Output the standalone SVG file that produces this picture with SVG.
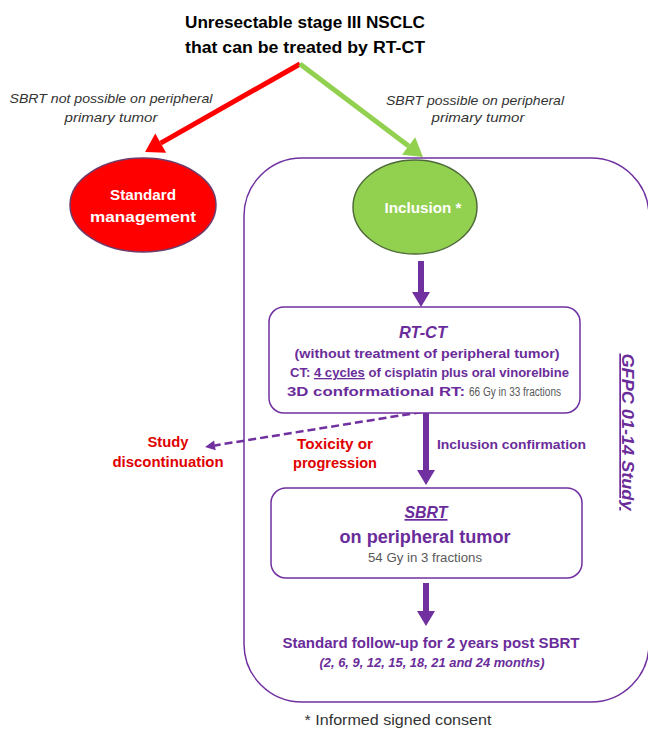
<svg xmlns="http://www.w3.org/2000/svg" width="648" height="731" viewBox="0 0 648 731">
<style>
text{font-family:"Liberation Sans",Arial,sans-serif}
.title{font-size:16px;font-weight:bold;fill:#000}
.lab{font-size:13px;font-style:italic;fill:#333}
.wb{font-weight:bold;fill:#fff}
.pb{font-weight:bold;fill:#6A2C9A}
.rb{font-weight:bold;fill:#E00000;font-size:14px}
.gray{fill:#595959;font-size:12px}
.box{fill:#fff;stroke:#7030A0;stroke-width:1.5}
.parr{stroke:#7030A0;stroke-width:6;fill:none}
</style>
<defs>
<marker id="hRed" markerUnits="userSpaceOnUse" markerWidth="18" markerHeight="22" refX="0" refY="11" orient="auto" overflow="visible"><path d="M0,0 L18,11 L0,22 z" fill="#FF0000"/></marker>
<marker id="hGreen" markerUnits="userSpaceOnUse" markerWidth="18" markerHeight="22" refX="0" refY="11" orient="auto" overflow="visible"><path d="M0,0 L18,11 L0,22 z" fill="#92D050"/></marker>
<marker id="hPur" markerUnits="userSpaceOnUse" markerWidth="15" markerHeight="18" refX="0" refY="9" orient="auto" overflow="visible"><path d="M0,0 L15,9 L0,18 z" fill="#7030A0"/></marker>
<marker id="hDash" markerUnits="userSpaceOnUse" markerWidth="10" markerHeight="10" refX="0" refY="5" orient="auto" overflow="visible"><path d="M0,0 L10,5 L0,10 z" fill="#7030A0"/></marker>
</defs>
<rect width="648" height="731" fill="#fff"/>

<g id="study-container">
<rect x="244" y="158" width="405" height="544" rx="58" ry="58" fill="none" stroke="#7030A0" stroke-width="1.5"/>
<text transform="translate(622,432) rotate(90)" text-anchor="middle" font-size="17" font-weight="bold" font-style="italic" fill="#6A2C9A" text-decoration="underline" textLength="157" lengthAdjust="spacingAndGlyphs">GFPC 01-14 Study</text>
</g>

<g id="title">
<text class="title" x="305" y="28" text-anchor="middle" textLength="240" lengthAdjust="spacingAndGlyphs">Unresectable stage III NSCLC</text>
<text class="title" x="305" y="53" text-anchor="middle" textLength="240" lengthAdjust="spacingAndGlyphs">that can be treated by RT-CT</text>
</g>

<g id="connectors">
<line x1="300" y1="64" x2="160.7" y2="143.1" stroke="#FF0000" stroke-width="5" marker-end="url(#hRed)"/>
<line x1="300" y1="64" x2="408.6" y2="146.1" stroke="#92D050" stroke-width="5" marker-end="url(#hGreen)"/>
<line class="parr" x1="421" y1="261" x2="421" y2="292" marker-end="url(#hPur)"/>
<line class="parr" x1="426" y1="413" x2="426" y2="470" marker-end="url(#hPur)"/>
<line class="parr" x1="426" y1="583" x2="426" y2="611" marker-end="url(#hPur)"/>
<line x1="422" y1="412" x2="214.9" y2="445.4" stroke="#7030A0" stroke-width="2.5" stroke-dasharray="8,4" marker-end="url(#hDash)"/>
<text class="lab" x="111" y="103" text-anchor="middle" textLength="203" lengthAdjust="spacingAndGlyphs">SBRT not possible on peripheral</text>
<text class="lab" x="111" y="122" text-anchor="middle" textLength="93" lengthAdjust="spacingAndGlyphs">primary tumor</text>
<text class="lab" x="475" y="105" text-anchor="middle" textLength="178" lengthAdjust="spacingAndGlyphs">SBRT possible on peripheral</text>
<text class="lab" x="478" y="122" text-anchor="middle" textLength="93" lengthAdjust="spacingAndGlyphs">primary tumor</text>
<text class="rb" x="335" y="449" text-anchor="middle" textLength="76" lengthAdjust="spacingAndGlyphs">Toxicity or</text>
<text class="rb" x="335" y="468" text-anchor="middle" textLength="84" lengthAdjust="spacingAndGlyphs">progression</text>
<text class="pb" x="437" y="449" font-size="13" textLength="149" lengthAdjust="spacingAndGlyphs">Inclusion confirmation</text>
</g>

<g id="standard-management">
<ellipse cx="143" cy="205" rx="73" ry="47" fill="#FF0000" stroke="#6E3B6B" stroke-width="1.5"/>
<text class="wb" x="143" y="200" text-anchor="middle" font-size="15" textLength="66" lengthAdjust="spacingAndGlyphs">Standard</text>
<text class="wb" x="143" y="222" text-anchor="middle" font-size="15" textLength="106" lengthAdjust="spacingAndGlyphs">management</text>
</g>

<g id="inclusion">
<ellipse cx="415" cy="207" rx="62" ry="47" fill="#92D050" stroke="#4F6B3A" stroke-width="1.5"/>
<text class="wb" x="423" y="213" text-anchor="middle" font-size="14" textLength="77" lengthAdjust="spacingAndGlyphs">Inclusion *</text>
</g>

<g id="rt-ct">
<rect class="box" x="269" y="307" width="311" height="106" rx="15"/>
<text class="pb" x="423" y="338" text-anchor="middle" font-size="17" font-style="italic" textLength="48" lengthAdjust="spacingAndGlyphs">RT-CT</text>
<text class="pb" x="427" y="358" text-anchor="middle" font-size="13" textLength="265" lengthAdjust="spacingAndGlyphs">(without treatment of peripheral tumor)</text>
<text class="pb" x="290" y="377" font-size="13" textLength="279" lengthAdjust="spacingAndGlyphs">CT: <tspan text-decoration="underline">4 cycles</tspan> of cisplatin plus oral vinorelbine</text>
<text class="pb" x="287" y="396" font-size="13" textLength="178" lengthAdjust="spacingAndGlyphs">3D conformational RT:</text>
<text class="gray" x="469" y="396" textLength="92" lengthAdjust="spacingAndGlyphs">66 Gy in 33 fractions</text>
</g>

<g id="study-discontinuation">
<text class="rb" x="168" y="447" text-anchor="middle" textLength="41" lengthAdjust="spacingAndGlyphs">Study</text>
<text class="rb" x="168" y="467" text-anchor="middle" textLength="111" lengthAdjust="spacingAndGlyphs">discontinuation</text>
</g>

<g id="sbrt">
<rect class="box" x="271" y="488" width="311" height="90" rx="15"/>
<text class="pb" x="426" y="518" text-anchor="middle" font-size="17" font-style="italic" text-decoration="underline" textLength="43" lengthAdjust="spacingAndGlyphs">SBRT</text>
<text class="pb" x="425" y="543" text-anchor="middle" font-size="18" textLength="171" lengthAdjust="spacingAndGlyphs">on peripheral tumor</text>
<text class="gray" x="425" y="562" text-anchor="middle" textLength="114" lengthAdjust="spacingAndGlyphs">54 Gy in 3 fractions</text>
</g>

<g id="follow-up">
<text class="pb" x="431" y="648" text-anchor="middle" font-size="14" textLength="297" lengthAdjust="spacingAndGlyphs">Standard follow-up for 2 years post SBRT</text>
<text class="pb" x="432" y="667" text-anchor="middle" font-size="12" font-style="italic" textLength="225" lengthAdjust="spacingAndGlyphs">(2, 6, 9, 12, 15, 18, 21 and 24 months)</text>
</g>

<g id="footnote">
<text x="398" y="725" text-anchor="middle" font-size="14" fill="#333" textLength="187" lengthAdjust="spacingAndGlyphs">* Informed signed consent</text>
</g>
</svg>
